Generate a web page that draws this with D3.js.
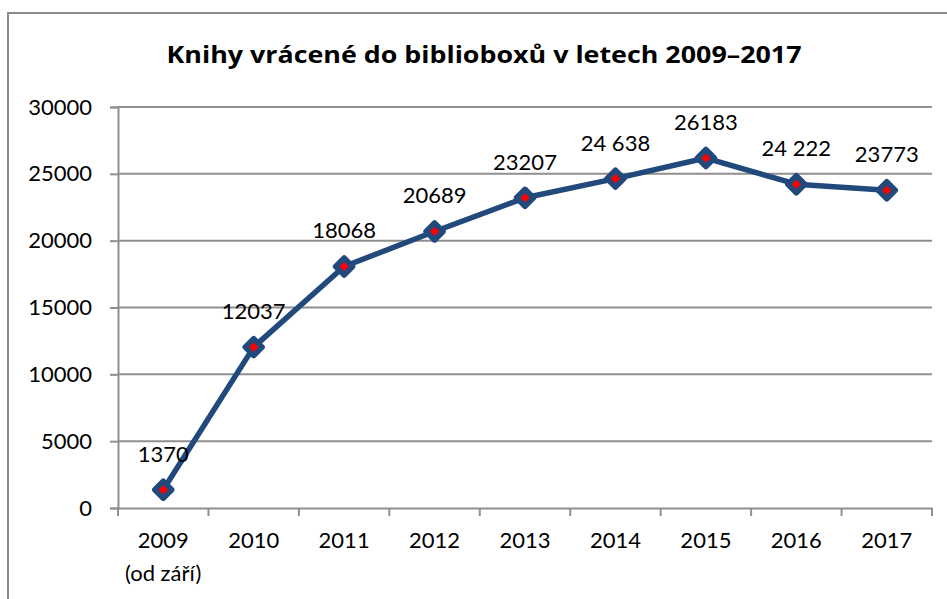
<!DOCTYPE html>
<html>
<head>
<meta charset="utf-8">
<script src="https://cdn.jsdelivr.net/npm/d3@7/dist/d3.min.js"></script>
<style>
  html, body { margin: 0; padding: 0; background: #fff; }
  svg { display: block; }
  text { font-family: Lato, "Open Sans", sans-serif; fill: #000; }
  text.title { font-family: "Open Sans", Lato, sans-serif; }
</style>
</head>
<body>
<script>
const title = "Knihy vrácené do biblioboxů v letech 2009–2017";
const categories = ["2009", "2010", "2011", "2012", "2013", "2014", "2015", "2016", "2017"];
const categorySubLabels = ["(od září)", "", "", "", "", "", "", "", ""];
const values = [1370, 12037, 18068, 20689, 23207, 24638, 26183, 24222, 23773];
const valueLabels = ["1370", "12037", "18068", "20689", "23207", "24 638", "26183", "24 222", "23773"];
const yTicks = [0, 5000, 10000, 15000, 20000, 25000, 30000];

const W = 947, H = 599;
const svg = d3.select("body").append("svg").attr("width", W).attr("height", H);

// outer chart border
svg.append("rect").attr("x", 8).attr("y", 13).attr("width", W + 20).attr("height", H + 20)
  .attr("fill", "none").attr("stroke", "#8a8a8a").attr("stroke-width", 2);

const plot = { left: 118, right: 932, top: 107, bottom: 508 };
const x = d3.scaleBand().domain(categories).range([plot.left, plot.right]).padding(0);
const y = d3.scaleLinear().domain([0, 30000]).range([plot.bottom, plot.top]);

const gridColor = "#8f8f8f";

// gridlines
svg.append("g").selectAll("line").data(yTicks.filter(d => d > 0)).join("line")
  .attr("x1", plot.left).attr("x2", plot.right)
  .attr("y1", d => y(d)).attr("y2", d => y(d))
  .attr("stroke", gridColor).attr("stroke-width", 2);

// y axis
const yAxis = svg.append("g").attr("transform", `translate(${plot.left},0)`)
  .call(d3.axisLeft(y).tickValues(yTicks).tickSize(8).tickPadding(18).tickFormat(d3.format("d")));
yAxis.select(".domain").attr("stroke", gridColor).attr("stroke-width", 2);
yAxis.selectAll(".tick line").attr("stroke", gridColor).attr("stroke-width", 2);
yAxis.selectAll(".tick text").attr("font-size", 22).attr("font-family", "Lato, sans-serif").attr("fill", "#000");

// x axis
const xAxis = svg.append("g").attr("transform", `translate(0,${plot.bottom})`)
  .call(d3.axisBottom(x).tickSize(0).tickPadding(24));
xAxis.select(".domain").attr("stroke", gridColor).attr("stroke-width", 2);
xAxis.selectAll(".tick text").attr("font-size", 22).attr("font-family", "Lato, sans-serif").attr("fill", "#000");
// boundary ticks
const bounds = categories.map(c => x(c)).concat([x.range()[1]]);
svg.append("g").selectAll("line").data(bounds).join("line")
  .attr("x1", d => d).attr("x2", d => d)
  .attr("y1", plot.bottom).attr("y2", plot.bottom + 8)
  .attr("stroke", gridColor).attr("stroke-width", 2);
// sub labels
svg.append("g").selectAll("text").data(categories).join("text")
  .attr("x", d => x(d) + x.bandwidth() / 2).attr("y", 581)
  .attr("text-anchor", "middle").attr("font-size", 22)
  .text((d, i) => categorySubLabels[i]);

// title
svg.append("text").attr("class", "title").attr("x", 484).attr("y", 63).attr("text-anchor", "middle")
  .attr("font-size", 24).attr("font-weight", "bold")
  .attr("textLength", 635).attr("lengthAdjust", "spacingAndGlyphs")
  .text(title);

// line
const pts = categories.map((c, i) => ({ c, v: values[i], label: valueLabels[i] }));
const line = d3.line().x(d => x(d.c) + x.bandwidth() / 2).y(d => y(d.v));
svg.append("path").datum(pts).attr("d", line)
  .attr("fill", "none").attr("stroke", "#22497c").attr("stroke-width", 5.5)
  .attr("stroke-linejoin", "round");

// markers
const r = 8.5;
svg.append("g").selectAll("path").data(pts).join("path")
  .attr("transform", d => `translate(${x(d.c) + x.bandwidth() / 2},${y(d.v)})`)
  .attr("d", `M0,${-r}L${r},0L0,${r}L${-r},0Z`)
  .attr("fill", "#ff0000").attr("stroke", "#22497c").attr("stroke-width", 5.5)
  .attr("stroke-linejoin", "round");

// data labels
svg.append("g").selectAll("text").data(pts).join("text")
  .attr("x", d => x(d.c) + x.bandwidth() / 2).attr("y", d => y(d.v) - 28)
  .attr("text-anchor", "middle").attr("font-size", 22)
  .text(d => d.label);
</script>
</body>
</html>
